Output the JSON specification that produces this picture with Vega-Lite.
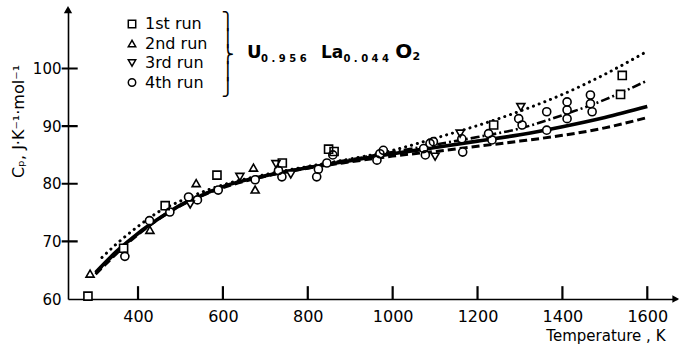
{
  "$schema": "https://vega.github.io/schema/vega-lite/v6.json",
  "width": 609,
  "height": 291,
  "autosize": {"type": "none"},
  "padding": {"left": 68, "top": 8, "right": 3, "bottom": 51},
  "background": "white",
  "config": {
    "view": {"stroke": null},
    "font": "DejaVu Sans",
    "axis": {"domainColor": "black", "domainWidth": 1.6, "labelColor": "black", "titleColor": "black", "grid": false, "labelFont": "DejaVu Sans", "titleFont": "DejaVu Sans", "titleFontWeight": "normal", "labelFlush": false, "labelOverlap": false}
  },
  "resolve": {"legend": {"shape": "independent"}},
  "datasets": {
    "solid": [
      {"T": 300, "Cp": 64.6}, {"T": 350, "Cp": 68.3}, {"T": 400, "Cp": 71.4}, {"T": 450, "Cp": 74.0},
      {"T": 500, "Cp": 76.3}, {"T": 550, "Cp": 78.0}, {"T": 600, "Cp": 79.5}, {"T": 700, "Cp": 81.4},
      {"T": 800, "Cp": 82.8}, {"T": 900, "Cp": 84.0}, {"T": 1000, "Cp": 85.2}, {"T": 1100, "Cp": 86.3},
      {"T": 1200, "Cp": 87.4}, {"T": 1300, "Cp": 88.5}, {"T": 1400, "Cp": 89.9}, {"T": 1500, "Cp": 91.5},
      {"T": 1600, "Cp": 93.4}
    ],
    "dashed": [
      {"T": 300, "Cp": 64.3}, {"T": 400, "Cp": 71.2}, {"T": 500, "Cp": 76.2}, {"T": 600, "Cp": 79.3},
      {"T": 700, "Cp": 81.3}, {"T": 800, "Cp": 82.7}, {"T": 900, "Cp": 83.8}, {"T": 1000, "Cp": 84.8},
      {"T": 1100, "Cp": 85.6}, {"T": 1200, "Cp": 86.5}, {"T": 1300, "Cp": 87.4}, {"T": 1400, "Cp": 88.4},
      {"T": 1500, "Cp": 89.7}, {"T": 1600, "Cp": 91.5}
    ],
    "dashdot": [
      {"T": 300, "Cp": 64.5}, {"T": 400, "Cp": 71.3}, {"T": 500, "Cp": 76.3}, {"T": 600, "Cp": 79.5},
      {"T": 700, "Cp": 81.4}, {"T": 800, "Cp": 82.9}, {"T": 900, "Cp": 84.2}, {"T": 1000, "Cp": 85.5},
      {"T": 1100, "Cp": 86.8}, {"T": 1200, "Cp": 88.1}, {"T": 1300, "Cp": 89.6}, {"T": 1400, "Cp": 91.9},
      {"T": 1500, "Cp": 94.6}, {"T": 1600, "Cp": 97.9}
    ],
    "dotted": [
      {"T": 315, "Cp": 67.2}, {"T": 350, "Cp": 69.6}, {"T": 400, "Cp": 72.6}, {"T": 450, "Cp": 75.2},
      {"T": 500, "Cp": 77.0}, {"T": 600, "Cp": 79.8}, {"T": 700, "Cp": 81.6}, {"T": 800, "Cp": 83.0},
      {"T": 900, "Cp": 84.3}, {"T": 1000, "Cp": 85.8}, {"T": 1100, "Cp": 87.9}, {"T": 1200, "Cp": 90.1},
      {"T": 1300, "Cp": 92.6}, {"T": 1400, "Cp": 95.5}, {"T": 1500, "Cp": 99.0}, {"T": 1600, "Cp": 103.0}
    ],
    "points": [
      {"run": "1st run", "T": 282, "Cp": 60.5}, {"run": "1st run", "T": 366, "Cp": 68.8},
      {"run": "1st run", "T": 464, "Cp": 76.2}, {"run": "1st run", "T": 586, "Cp": 81.5},
      {"run": "1st run", "T": 740, "Cp": 83.6}, {"run": "1st run", "T": 849, "Cp": 86.0},
      {"run": "1st run", "T": 862, "Cp": 85.6}, {"run": "1st run", "T": 1238, "Cp": 90.2},
      {"run": "1st run", "T": 1541, "Cp": 98.8}, {"run": "1st run", "T": 1537, "Cp": 95.5},
      {"run": "2nd run", "T": 287, "Cp": 64.4}, {"run": "2nd run", "T": 428, "Cp": 72.0},
      {"run": "2nd run", "T": 537, "Cp": 80.1}, {"run": "2nd run", "T": 672, "Cp": 82.8},
      {"run": "2nd run", "T": 676, "Cp": 79.0},
      {"run": "3rd run", "T": 523, "Cp": 76.4}, {"run": "3rd run", "T": 640, "Cp": 81.2},
      {"run": "3rd run", "T": 725, "Cp": 83.4}, {"run": "3rd run", "T": 760, "Cp": 81.6},
      {"run": "3rd run", "T": 1100, "Cp": 84.7}, {"run": "3rd run", "T": 1159, "Cp": 88.7},
      {"run": "3rd run", "T": 1302, "Cp": 93.3},
      {"run": "4th run", "T": 369, "Cp": 67.4}, {"run": "4th run", "T": 427, "Cp": 73.6},
      {"run": "4th run", "T": 475, "Cp": 75.1}, {"run": "4th run", "T": 519, "Cp": 77.7},
      {"run": "4th run", "T": 540, "Cp": 77.2}, {"run": "4th run", "T": 589, "Cp": 78.9},
      {"run": "4th run", "T": 676, "Cp": 80.7}, {"run": "4th run", "T": 731, "Cp": 82.3},
      {"run": "4th run", "T": 739, "Cp": 81.2}, {"run": "4th run", "T": 821, "Cp": 81.2},
      {"run": "4th run", "T": 825, "Cp": 82.5}, {"run": "4th run", "T": 845, "Cp": 83.6},
      {"run": "4th run", "T": 859, "Cp": 85.0}, {"run": "4th run", "T": 963, "Cp": 84.1},
      {"run": "4th run", "T": 970, "Cp": 85.2}, {"run": "4th run", "T": 978, "Cp": 85.8},
      {"run": "4th run", "T": 1073, "Cp": 86.1}, {"run": "4th run", "T": 1077, "Cp": 85.0},
      {"run": "4th run", "T": 1088, "Cp": 87.0}, {"run": "4th run", "T": 1096, "Cp": 87.3},
      {"run": "4th run", "T": 1163, "Cp": 87.8}, {"run": "4th run", "T": 1165, "Cp": 85.5},
      {"run": "4th run", "T": 1226, "Cp": 88.7}, {"run": "4th run", "T": 1234, "Cp": 87.6},
      {"run": "4th run", "T": 1297, "Cp": 91.3}, {"run": "4th run", "T": 1305, "Cp": 90.2},
      {"run": "4th run", "T": 1363, "Cp": 92.5}, {"run": "4th run", "T": 1363, "Cp": 89.3},
      {"run": "4th run", "T": 1411, "Cp": 94.2}, {"run": "4th run", "T": 1411, "Cp": 92.8},
      {"run": "4th run", "T": 1411, "Cp": 91.3}, {"run": "4th run", "T": 1466, "Cp": 95.4},
      {"run": "4th run", "T": 1466, "Cp": 93.9}, {"run": "4th run", "T": 1470, "Cp": 92.5}
    ],
    "xticks": [{"T": 400}, {"T": 600}, {"T": 800}, {"T": 1000}, {"T": 1200}, {"T": 1400}, {"T": 1600}],
    "yticks": [{"Cp": 70}, {"Cp": 80}, {"Cp": 90}, {"Cp": 100}],
    "anchor": [{"k": 1}]
  },
  "layer": [
    {
      "data": {"name": "solid"},
      "mark": {"type": "line", "color": "black", "strokeWidth": 3.6, "interpolate": "monotone"},
      "encoding": {
        "x": {"field": "T", "type": "quantitative", "scale": {"domain": [235, 1670], "nice": false, "zero": false},
          "axis": {"values": [400, 600, 800, 1000, 1200, 1400, 1600], "format": "d", "ticks": false, "labelPadding": 9, "labelFontSize": 16,
            "title": "Temperature , K", "titleFontSize": 15, "titleX": 597, "titleY": 36, "titleAlign": "right", "titleBaseline": "middle"}},
        "y": {"field": "Cp", "type": "quantitative", "scale": {"domain": [60, 110.5], "nice": false, "zero": false},
          "axis": {"values": [60, 70, 80, 90, 100], "format": "d", "ticks": false, "labelPadding": 7, "labelFontSize": 15,
            "title": "Cₚ,  J·K⁻¹·mol⁻¹", "titleFontSize": 16, "titleAngle": -90, "titleX": -50, "titleY": 113, "titleAlign": "center", "titleBaseline": "middle"}}
      }
    },
    {
      "data": {"name": "xticks"},
      "mark": {"type": "tick", "orient": "vertical", "color": "#000000", "size": 13, "thickness": 2.2, "opacity": 1, "clip": false},
      "encoding": {"x": {"field": "T", "type": "quantitative"}, "y": {"datum": 61.1}}
    },
    {
      "data": {"name": "yticks"},
      "mark": {"type": "tick", "orient": "horizontal", "color": "#000000", "size": 16, "thickness": 2.2, "opacity": 1, "clip": false},
      "encoding": {"y": {"field": "Cp", "type": "quantitative"}, "x": {"datum": 239}}
    },
    {
      "data": {"name": "dashed"},
      "mark": {"type": "line", "color": "black", "strokeWidth": 3, "strokeDash": [8, 4], "interpolate": "monotone"},
      "encoding": {"x": {"field": "T", "type": "quantitative"}, "y": {"field": "Cp", "type": "quantitative"}}
    },
    {
      "data": {"name": "dashdot"},
      "mark": {"type": "line", "color": "black", "strokeWidth": 2.6, "strokeDash": [9, 3, 2, 3], "interpolate": "monotone"},
      "encoding": {"x": {"field": "T", "type": "quantitative"}, "y": {"field": "Cp", "type": "quantitative"}}
    },
    {
      "data": {"name": "dotted"},
      "mark": {"type": "line", "color": "black", "strokeWidth": 3, "strokeDash": [0.1, 6], "strokeCap": "round", "interpolate": "monotone"},
      "encoding": {"x": {"field": "T", "type": "quantitative"}, "y": {"field": "Cp", "type": "quantitative"}}
    },
    {
      "data": {"name": "points"},
      "mark": {"type": "point", "filled": true, "color": "white", "size": 65, "opacity": 1},
      "encoding": {
        "x": {"field": "T", "type": "quantitative"},
        "y": {"field": "Cp", "type": "quantitative"},
        "shape": {"field": "run", "type": "nominal",
          "scale": {"domain": ["1st run", "2nd run", "3rd run", "4th run"], "range": ["square", "triangle-up", "triangle-down", "circle"]},
          "legend": null}
      }
    },
    {
      "data": {"name": "points"},
      "mark": {"type": "point", "filled": false, "color": "black", "strokeWidth": 1.6, "size": 65, "opacity": 1},
      "encoding": {
        "x": {"field": "T", "type": "quantitative"},
        "y": {"field": "Cp", "type": "quantitative"},
        "shape": {"field": "run", "type": "nominal",
          "legend": {"title": null, "orient": "none", "legendX": 56, "legendY": 8, "labelFontSize": 16, "labelFont": "DejaVu Sans", "labelColor": "black",
            "symbolSize": 55, "symbolStrokeWidth": 1.5, "symbolStrokeColor": "black", "rowPadding": 3.5, "labelOffset": 5, "padding": 0}}
      }
    },
    {
      "data": {"name": "anchor"},
      "mark": {"type": "point", "shape": "triangle-up", "filled": true, "color": "black", "size": 70, "opacity": 1, "clip": false},
      "encoding": {"x": {"datum": 235}, "y": {"datum": 110.2}}
    },
    {
      "data": {"name": "anchor"},
      "mark": {"type": "point", "shape": "triangle-right", "filled": true, "color": "black", "size": 60, "opacity": 1, "clip": false},
      "encoding": {"x": {"datum": 1667}, "y": {"datum": 60}}
    },
    {
      "data": {"name": "anchor"},
      "mark": {"type": "text", "text": ["⎫", "⎪", "⎬", "⎪", "⎭"], "font": "DejaVu Sans", "fontSize": 17, "lineHeight": 16.5, "align": "center", "baseline": "middle", "color": "black"},
      "encoding": {"x": {"datum": 612}, "y": {"datum": 108.0}}
    },
    {
      "data": {"name": "anchor"},
      "mark": {"type": "text", "text": "U", "font": "DejaVu Sans", "fontSize": 18, "fontWeight": "bold", "align": "left", "baseline": "alphabetic", "color": "black"},
      "encoding": {"x": {"datum": 657}, "y": {"datum": 101.8}}
    },
    {
      "data": {"name": "anchor"},
      "mark": {"type": "text", "text": "0 . 9 5 6", "font": "DejaVu Sans", "fontSize": 10, "fontWeight": "bold", "align": "left", "baseline": "alphabetic", "color": "black"},
      "encoding": {"x": {"datum": 690}, "y": {"datum": 101.2}}
    },
    {
      "data": {"name": "anchor"},
      "mark": {"type": "text", "text": "La", "font": "DejaVu Sans", "fontSize": 17, "fontWeight": "bold", "align": "left", "baseline": "alphabetic", "color": "black"},
      "encoding": {"x": {"datum": 831}, "y": {"datum": 101.8}}
    },
    {
      "data": {"name": "anchor"},
      "mark": {"type": "text", "text": "0 . 0 4 4", "font": "DejaVu Sans", "fontSize": 10, "fontWeight": "bold", "align": "left", "baseline": "alphabetic", "color": "black"},
      "encoding": {"x": {"datum": 884}, "y": {"datum": 101.2}}
    },
    {
      "data": {"name": "anchor"},
      "mark": {"type": "text", "text": "O", "font": "DejaVu Sans", "fontSize": 20, "fontWeight": "bold", "align": "left", "baseline": "alphabetic", "color": "black"},
      "encoding": {"x": {"datum": 1006}, "y": {"datum": 101.9}}
    },
    {
      "data": {"name": "anchor"},
      "mark": {"type": "text", "text": "2", "font": "DejaVu Sans", "fontSize": 11, "fontWeight": "bold", "align": "left", "baseline": "alphabetic", "color": "black"},
      "encoding": {"x": {"datum": 1047}, "y": {"datum": 101.4}}
    }
  ]
}
